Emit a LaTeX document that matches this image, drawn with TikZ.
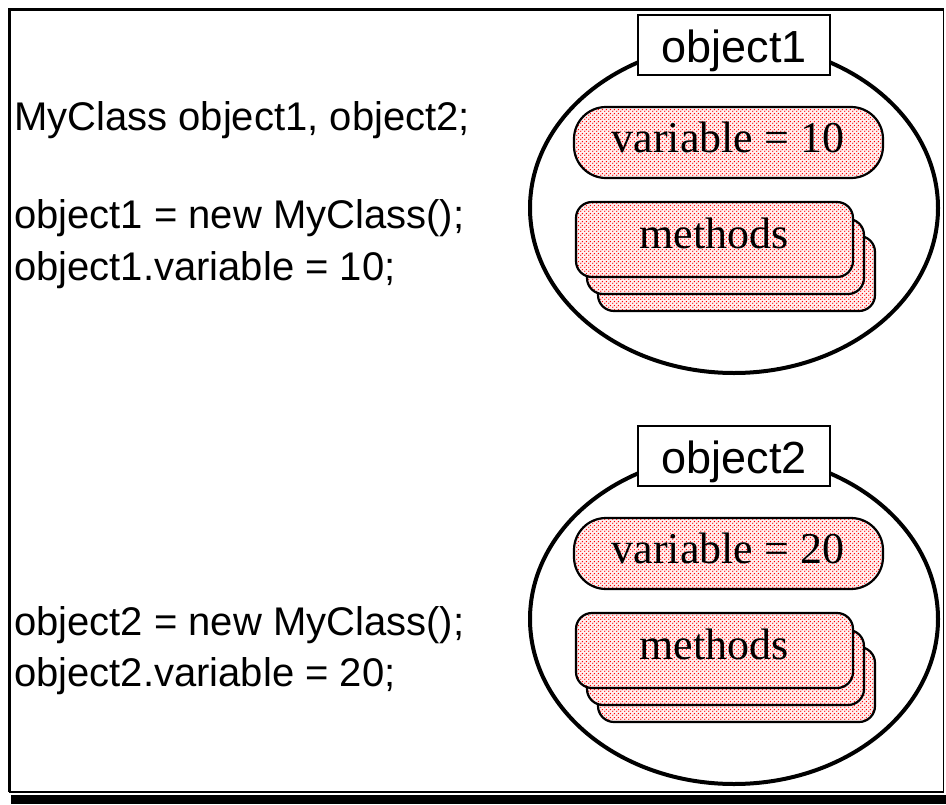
\documentclass[tikz,border=0pt]{standalone}
\usepackage{fontspec}
\setmainfont{Liberation Serif}
\newfontfamily\sansf{Liberation Sans}
\usetikzlibrary{patterns.meta}

\tikzdeclarepattern{
  name=pinkdots,
  type=uncolored,
  bounding box={(0pt,0pt) and (4pt,4pt)},
  tile size={(4pt,4pt)},
  code={
    \pgfpathcircle{\pgfpoint{1pt}{1pt}}{0.85pt}
    \pgfpathcircle{\pgfpoint{3pt}{3pt}}{0.85pt}
    \pgfusepath{fill}
  }
}

\tikzset{
  codetext/.style={anchor=base west, inner sep=0pt, font=\sansf\fontsize{40}{40}\selectfont},
  serift/.style={anchor=base, inner sep=0pt, font=\fontsize{44}{44}\selectfont},
  labeltext/.style={anchor=base, inner sep=0pt, font=\sansf\fontsize{45}{45}\selectfont},
  objring/.style={draw, line width=4pt},
  labelbox/.style={draw, line width=2.5pt, fill=white},
  pinkfill/.style={draw, line width=2.2pt, preaction={fill=red!6}, pattern=pinkdots, pattern color=red},
}

\begin{document}
\begin{tikzpicture}[x=1pt, y=-1pt]
\useasboundingbox (0,0) rectangle (946,804);
% frame with shadow
\fill[black] (11,795) rectangle (946,804);
\draw[line width=1.8pt] (9,792) -- (943.5,792) -- (943.5,9);
\draw[line width=3pt] (9,792) -- (9,9) -- (943.5,9);

% code lines
\node[codetext] (l1) at (14,130) {MyClass object1, object2;};
\node[codetext] (l2) at (14,228) {object1 = new MyClass();};
\node[codetext] (l3) at (14,280) {object1.variable = 10;};
\node[codetext] (l4) at (14,635) {object2 = new MyClass();};
\node[codetext] (l5) at (14,686) {object2.variable = 20;};

% objects
\foreach \dy/\n/\v in {0/1/10, 411/2/20}{
  \begin{scope}[yshift=-\dy pt]
    \draw[objring] (734,208) ellipse [x radius=204, y radius=165];
    \draw[labelbox] (638,15) rectangle (830,75);
    \node[labeltext] (obj\n) at (734,62) {object\n};
    \draw[pinkfill, rounded corners=32pt] (574,107) rectangle (883,178);
    \node[serift] (var\n) at (728,152) {variable = \v};
    \draw[pinkfill, rounded corners=16pt] (598,236) rectangle (875,311);
    \draw[pinkfill, rounded corners=16pt] (587,219) rectangle (864,294);
    \draw[pinkfill, rounded corners=16pt] (576,202) rectangle (853,277);
    \node[serift] (meth\n) at (714,248) {methods};
  \end{scope}
}
\end{tikzpicture}
\end{document}
